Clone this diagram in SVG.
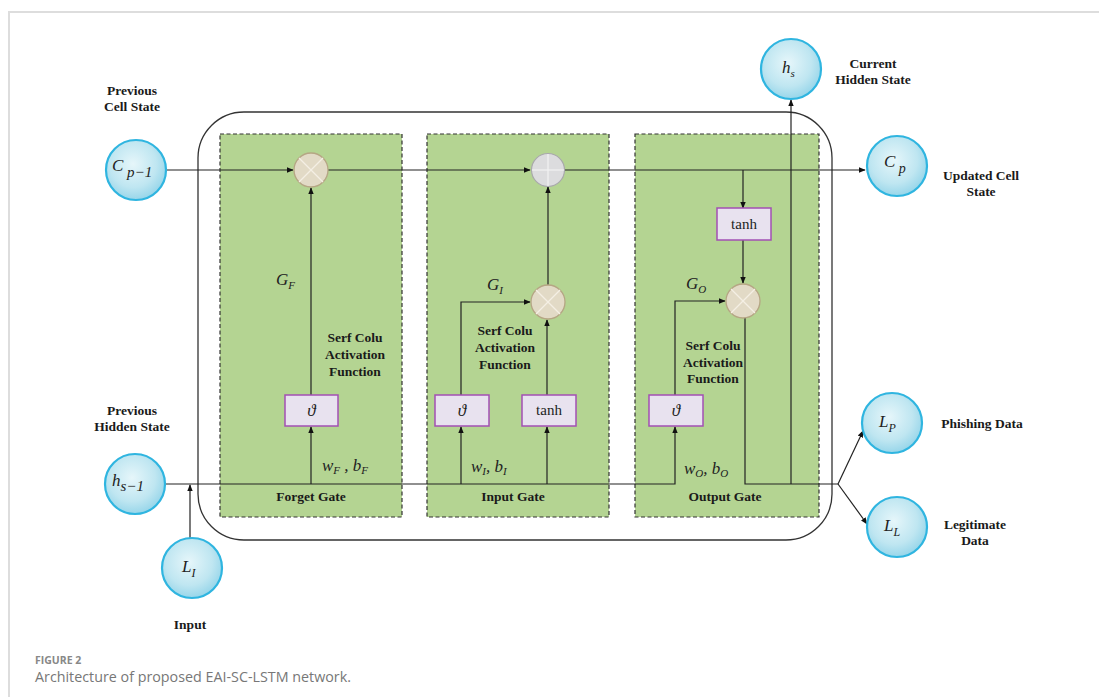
<svg xmlns="http://www.w3.org/2000/svg" width="1099" height="697" viewBox="0 0 1099 697">
<defs>
<radialGradient id="cg" cx="0.45" cy="0.4" r="0.65">
<stop offset="0" stop-color="#e6f6fa"/>
<stop offset="0.6" stop-color="#bfe6f1"/>
<stop offset="1" stop-color="#8ed2e8"/>
</radialGradient>
<marker id="ar" viewBox="0 0 10 10" refX="9" refY="5" markerWidth="7" markerHeight="7" orient="auto" markerUnits="userSpaceOnUse">
<path d="M0,1 L10,5 L0,9 z" fill="#111"/>
</marker>
</defs>
<style>
.frame{fill:none;stroke:#ddd;stroke-width:2}
.outer{fill:none;stroke:#333;stroke-width:1.3}
.gate{fill:#b4d492;stroke:#333;stroke-width:1.2;stroke-dasharray:4 2.5}
.node{fill:url(#cg);stroke:#2fb5e0;stroke-width:2.2}
.mul{fill:#e2dac6;stroke:#b5a684;stroke-width:1.3}
.mulx{stroke:#f4efe4;stroke-width:1.2}
.add{fill:#dcdcde;stroke:#a9a9ab;stroke-width:1.2}
.addx{stroke:#f2f2f2;stroke-width:1.2}
.box{fill:#e8e2ef;stroke:#a24fb4;stroke-width:1.5}
.ln{fill:none;stroke:#222;stroke-width:1.2}
.lbl{font-family:"Liberation Serif",serif;font-weight:bold;font-size:13.5px;fill:#1a1a1a;text-anchor:middle}
.math{font-family:"Liberation Serif",serif;font-style:italic;font-size:17px;fill:#222}
.mathm{font-family:"Liberation Serif",serif;font-style:italic;font-size:17px;fill:#222;text-anchor:middle}
.fn{font-family:"Liberation Serif",serif;font-size:15px;fill:#222;text-anchor:middle}
.cap1{font-family:"Open Sans",sans-serif;font-weight:bold;font-size:10.5px;fill:#888}
.cap2{font-family:"Open Sans",sans-serif;font-size:14.3px;fill:#777}
</style>
<rect width="1099" height="697" fill="#fff"/>
<path class="frame" d="M9,697 V12 H1099"/>

<g id="cell">
<rect class="outer" x="198" y="112" width="634" height="428" rx="46"/>
</g>
<g id="forget-gate">
<rect class="gate" x="220" y="134" width="182" height="383"/>
<text class="lbl" x="311" y="501">Forget Gate</text>
</g>
<g id="input-gate">
<rect class="gate" x="427" y="134" width="182" height="383"/>
<text class="lbl" x="513" y="501">Input Gate</text>
</g>
<g id="output-gate">
<rect class="gate" x="635" y="134" width="184" height="383"/>
<text class="lbl" x="725" y="501">Output Gate</text>
</g>

<g id="connectors">
<line class="ln" x1="166" y1="170" x2="293" y2="170" marker-end="url(#ar)"/>
<line class="ln" x1="328" y1="170" x2="530" y2="170" marker-end="url(#ar)"/>
<line class="ln" x1="565" y1="170" x2="865" y2="170" marker-end="url(#ar)"/>
<line class="ln" x1="743" y1="170" x2="743" y2="208" marker-end="url(#ar)"/>
<line class="ln" x1="743" y1="240" x2="743" y2="283" marker-end="url(#ar)"/>
<polyline class="ln" points="165,484 675,484 675,427" marker-end="url(#ar)"/>
<line class="ln" x1="190" y1="538" x2="190" y2="485" marker-end="url(#ar)"/>
<line class="ln" x1="311" y1="484" x2="311" y2="427" marker-end="url(#ar)"/>
<line class="ln" x1="311" y1="395" x2="311" y2="188" marker-end="url(#ar)"/>
<line class="ln" x1="461" y1="484" x2="461" y2="427" marker-end="url(#ar)"/>
<line class="ln" x1="547" y1="484" x2="547" y2="427" marker-end="url(#ar)"/>
<polyline class="ln" points="461,395 461,302 530,302" marker-end="url(#ar)"/>
<line class="ln" x1="547" y1="395" x2="547" y2="320" marker-end="url(#ar)"/>
<line class="ln" x1="548" y1="285" x2="548" y2="187" marker-end="url(#ar)"/>
<polyline class="ln" points="675,395 675,301 725,301" marker-end="url(#ar)"/>
<polyline class="ln" points="745,318 745,484 838,484"/>
<line class="ln" x1="791" y1="484" x2="791" y2="100" marker-end="url(#ar)"/>
<line class="ln" x1="838" y1="484" x2="863" y2="431" marker-end="url(#ar)"/>
<line class="ln" x1="838" y1="484" x2="867" y2="524" marker-end="url(#ar)"/>
</g>

<g id="forget-mul">
<circle class="mul" cx="311" cy="170" r="17"/>
<line class="mulx" x1="299" y1="158" x2="323" y2="182"/>
<line class="mulx" x1="323" y1="158" x2="299" y2="182"/>
</g>
<g id="cell-add">
<circle class="add" cx="548" cy="170" r="16.5"/>
<line class="addx" x1="548" y1="154" x2="548" y2="186"/>
<line class="addx" x1="532" y1="170" x2="564" y2="170"/>
</g>
<g id="input-mul">
<circle class="mul" cx="548" cy="302" r="17"/>
<line class="mulx" x1="536" y1="290" x2="560" y2="314"/>
<line class="mulx" x1="560" y1="290" x2="536" y2="314"/>
</g>
<g id="output-mul">
<circle class="mul" cx="743" cy="301" r="17"/>
<line class="mulx" x1="731" y1="289" x2="755" y2="313"/>
<line class="mulx" x1="755" y1="289" x2="731" y2="313"/>
</g>

<g id="forget-sigma">
<rect class="box" x="285" y="395" width="53" height="31"/>
<text class="mathm" x="311.5" y="416">ϑ</text>
</g>
<g id="input-sigma">
<rect class="box" x="435" y="395" width="54" height="31"/>
<text class="mathm" x="462" y="416">ϑ</text>
</g>
<g id="input-tanh">
<rect class="box" x="522" y="395" width="54" height="31"/>
<text class="fn" x="549" y="415">tanh</text>
</g>
<g id="output-sigma">
<rect class="box" x="649" y="395" width="54" height="31"/>
<text class="mathm" x="676" y="416">ϑ</text>
</g>
<g id="output-tanh">
<rect class="box" x="717" y="208" width="54" height="32"/>
<text class="fn" x="744" y="229">tanh</text>
</g>

<g id="gate-labels">
<text class="math" x="276" y="285">G<tspan font-size="11" dy="4">F</tspan></text>
<text class="math" x="487" y="290">G<tspan font-size="11" dy="4">I</tspan></text>
<text class="math" x="686" y="289">G<tspan font-size="11" dy="4">O</tspan></text>
<text class="math" x="322" y="471">w<tspan font-size="11" dy="3">F</tspan><tspan dy="-3"> , b</tspan><tspan font-size="11" dy="3">F</tspan></text>
<text class="math" x="471" y="472">w<tspan font-size="11" dy="3">I</tspan><tspan dy="-3">, b</tspan><tspan font-size="11" dy="3">I</tspan></text>
<text class="math" x="684" y="474">w<tspan font-size="11" dy="3">O</tspan><tspan dy="-3">, b</tspan><tspan font-size="11" dy="3">O</tspan></text>
<text class="lbl" x="355" y="342">Serf Colu</text>
<text class="lbl" x="355" y="359">Activation</text>
<text class="lbl" x="355" y="376">Function</text>
<text class="lbl" x="505" y="335">Serf Colu</text>
<text class="lbl" x="505" y="352">Activation</text>
<text class="lbl" x="505" y="369">Function</text>
<text class="lbl" x="713" y="350">Serf Colu</text>
<text class="lbl" x="713" y="367">Activation</text>
<text class="lbl" x="713" y="383">Function</text>
</g>

<g id="prev-cell">
<circle class="node" cx="136" cy="170" r="30"/>
<text class="math" x="112" y="171" font-size="20">C<tspan font-size="15" dy="6"> p−1</tspan></text>
<text class="lbl" x="132" y="95">Previous</text>
<text class="lbl" x="132" y="111">Cell State</text>
</g>
<g id="prev-hidden">
<circle class="node" cx="135" cy="484" r="30"/>
<text class="math" x="112" y="486" font-size="19">h<tspan font-size="15" dy="5">s−1</tspan></text>
<text class="lbl" x="132" y="415">Previous</text>
<text class="lbl" x="132" y="431">Hidden State</text>
</g>
<g id="input">
<circle class="node" cx="192" cy="568" r="30"/>
<text class="math" x="182" y="572" font-size="19">L<tspan font-size="12" dy="5">I</tspan></text>
<text class="lbl" x="190" y="629">Input</text>
</g>
<g id="hidden-state">
<circle class="node" cx="791" cy="69" r="30"/>
<text class="math" x="782" y="73" font-size="17">h<tspan font-size="11" dy="4">s</tspan></text>
<text class="lbl" x="873" y="68">Current</text>
<text class="lbl" x="873" y="84">Hidden State</text>
</g>
<g id="cell-state">
<circle class="node" cx="897" cy="166" r="30"/>
<text class="math" x="884" y="167" font-size="19">C<tspan font-size="14" dy="6"> p</tspan></text>
<text class="lbl" x="981" y="180">Updated Cell</text>
<text class="lbl" x="981" y="196">State</text>
</g>
<g id="phishing">
<circle class="node" cx="892" cy="423" r="30"/>
<text class="math" x="879" y="427" font-size="19">L<tspan font-size="12" dy="5">P</tspan></text>
<text class="lbl" x="982" y="428">Phishing Data</text>
</g>
<g id="legitimate">
<circle class="node" cx="897" cy="527" r="30"/>
<text class="math" x="884" y="531" font-size="19">L<tspan font-size="12" dy="5">L</tspan></text>
<text class="lbl" x="975" y="529">Legitimate</text>
<text class="lbl" x="975" y="545">Data</text>
</g>

<text class="cap1" x="35" y="664">FIGURE 2</text>
<text class="cap2" x="35" y="682">Architecture of proposed EAI-SC-LSTM network.</text>
</svg>
